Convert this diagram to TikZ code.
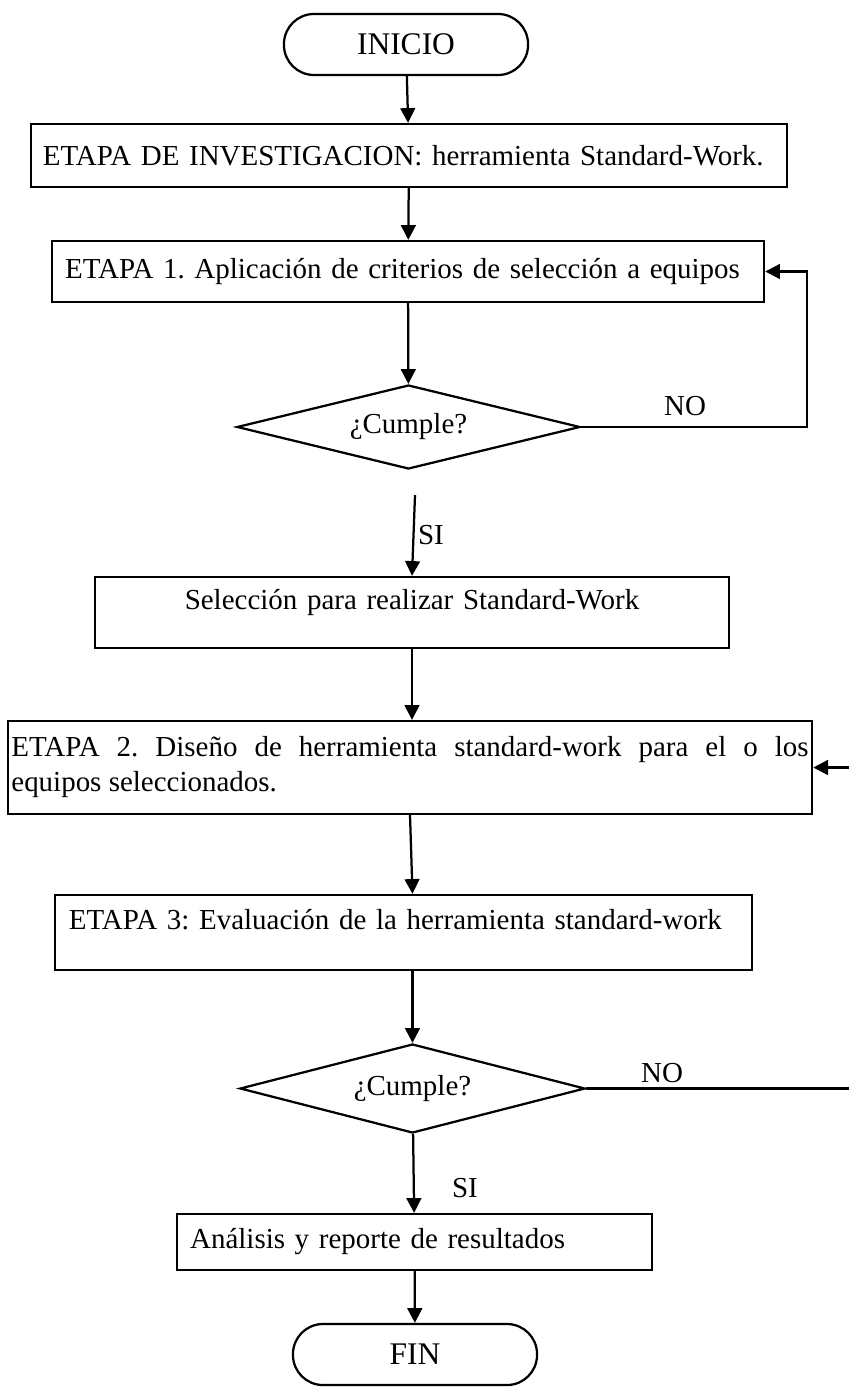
\documentclass[tikz,border=0pt]{standalone}
\usepackage{fontspec}
\setmainfont{Liberation Serif}
\usepackage{tikz}
\usetikzlibrary{arrows.meta,positioning,shapes.geometric}

\begin{document}
\frenchspacing
\begin{tikzpicture}[x=0.025cm,y=-0.025cm,>={Triangle[length=10.5pt,width=10.5pt]},line width=1.6pt,
  every node/.style={font=\fontsize{20.6}{25}\selectfont},
  terminal/.style={draw,rectangle,rounded corners=0.75cm,minimum width=6.1cm,minimum height=1.525cm,
    font=\fontsize{22.4}{27}\selectfont},
  caja/.style={draw,rectangle,inner xsep=0.33cm,inner ysep=0pt},
  decision/.style={draw,diamond,shape aspect=4,inner sep=0pt}]
  \useasboundingbox (0,0) rectangle (849,1391);

  % Inicio y etapa de investigación
  \node[terminal] (inicio) at (406,44.5) {INICIO};
  \node[caja,inner xsep=0.3cm,minimum width=18.9cm,minimum height=1.575cm,text width=18.3cm,align=left] (inv) at (409,155.5)
    {ETAPA DE INVESTIGACION: herramienta Standard-Work.};

  % Etapa 1 con su ciclo de verificación
  \node[caja,minimum width=17.8cm,minimum height=1.525cm,text width=17.14cm,align=left] (e1) at (408,271.5)
    {ETAPA 1. Aplicación de criterios de selección a equipos};
  \node[decision,minimum width=8.575cm,minimum height=2.1cm] (dec1) at (408.5,427) {¿Cumple?};
  \coordinate (giro1) at (807,271.5);
  \node (no1) at (685,406) {NO};
  \coordinate (si1) at (415,495);
  \node (lsi1) at (431,535) {SI};

  \node[caja,minimum width=15.85cm,text width=15.19cm,align=center,text height=23.3pt,text depth=27.2pt] (sel) at (412,612.5)
    {Selección para realizar Standard-Work};

  % Etapa 2 y etapa 3
  \node[caja,font=\fontsize{20.6}{24.9}\selectfont,inner xsep=0.0875cm,minimum width=20.1cm,minimum height=2.325cm,
    text width=19.925cm,align=justify] (e2) at (410,767.5)
    {ETAPA 2. Diseño de herramienta standard-work para el o los\linebreak equipos seleccionados.};
  \coordinate (giro2) at (849,767.5);
  \node[caja,inner xsep=0.35cm,minimum width=17.425cm,text width=16.725cm,align=left,text height=24.7pt,text depth=28.7pt] (e3) at (403.5,932.5)
    {ETAPA 3: Evaluación de la herramienta standard-work};
  \node[decision,minimum width=8.625cm,minimum height=2.225cm] (dec2) at (412.5,1088.5) {¿Cumple?};
  \coordinate (fin2) at (849,1088.5);
  \node (no2) at (662,1073) {NO};
  \node (lsi2) at (465,1188) {SI};

  % Cierre
  \node[caja,minimum width=11.875cm,minimum height=1.4cm,text width=11.215cm,align=left] (ana) at (414.5,1242)
    {Análisis y reporte de resultados};
  \node[terminal] (fin) at (415,1354.5) {FIN};

  \draw[->] (inicio) -- (inv);
  \draw[->] (inv) -- (e1);
  \draw[->] (e1) -- (dec1);
  \draw[->] (dec1.east) -| (giro1) -- (e1.east);
  \draw[->] (si1) -- (sel.north);
  \draw[->] (sel.south) -- (sel.south |- e2.north);
  \draw[->] (giro2) -- (e2.east);
  \draw[->] (e2.south) -- (e3.north -| dec2);
  \draw[->] (e3.south -| dec2) -- (dec2.north);
  \draw (dec2.east) -- (fin2);
  \draw[->] (dec2) -- (ana);
  \draw[->] (ana) -- (fin);
\end{tikzpicture}
\end{document}
